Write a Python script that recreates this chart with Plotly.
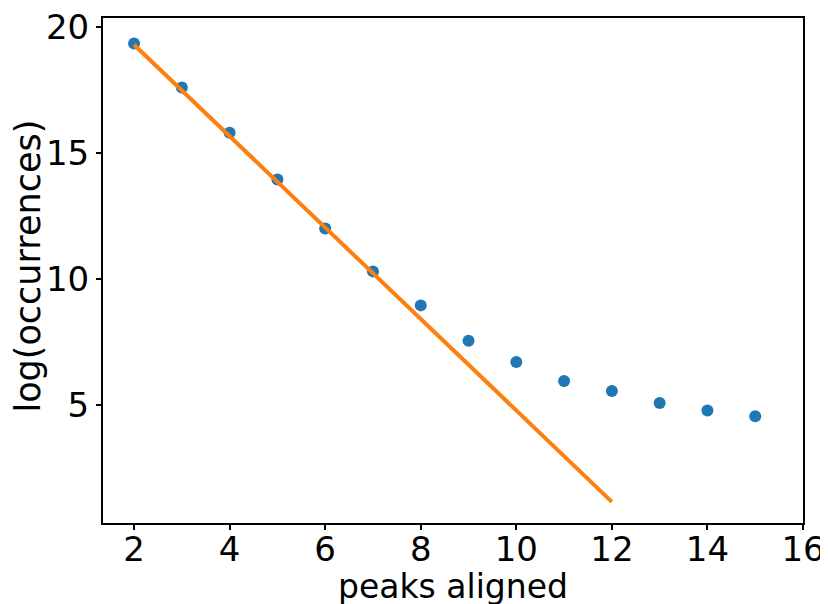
import plotly.graph_objects as go

peaks = [2, 3, 4, 5, 6, 7, 8, 9, 10, 11, 12, 13, 14, 15]
log_occ = [19.35, 17.6, 15.8, 13.95, 12.0, 10.3, 8.95, 7.55, 6.7, 5.95, 5.55, 5.07, 4.78, 4.55]
fit_x = [2, 12]
fit_y = [19.3, 1.15]
x_ticks = [2, 4, 6, 8, 10, 12, 14, 16]
y_ticks = [5, 10, 15, 20]

fig = go.Figure()
fig.add_trace(go.Scatter(x=peaks, y=log_occ, mode="markers",
                         marker=dict(color="#1f77b4", size=12, line=dict(width=0))))
fig.add_trace(go.Scatter(x=fit_x, y=fit_y, mode="lines",
                         line=dict(color="#ff7f0e", width=4)))

axis_common = dict(showgrid=False, zeroline=False, showline=True, linecolor="black",
                   linewidth=2, mirror=True, ticks="outside", ticklen=5, tickwidth=1.5,
                   tickcolor="black", automargin=False, ticklabeloverflow="allow",
                   tickfont=dict(size=34, color="black", family="DejaVu Sans"))
fig.update_layout(
    width=828, height=604,
    margin=dict(l=95, r=33, t=10, b=89),
    plot_bgcolor="white", paper_bgcolor="white",
    showlegend=False,
    font=dict(family="DejaVu Sans", color="black"),
    xaxis=dict(range=[1.35, 16.0], tickvals=x_ticks, ticklabelstandoff=-10, **axis_common),
    yaxis=dict(range=[0.31, 20.36], tickvals=y_ticks, **axis_common),
    annotations=[
        dict(text="peaks aligned", xref="paper", yref="paper", x=0.5, y=-0.125,
             xanchor="center", yanchor="middle", showarrow=False,
             font=dict(size=33, color="black")),
        dict(text="log(occurrences)", xref="paper", yref="paper", x=-0.107, y=0.508,
             xanchor="center", yanchor="middle", textangle=-90, showarrow=False,
             font=dict(size=35, color="black")),
    ],
)
fig.write_html("out.html")
